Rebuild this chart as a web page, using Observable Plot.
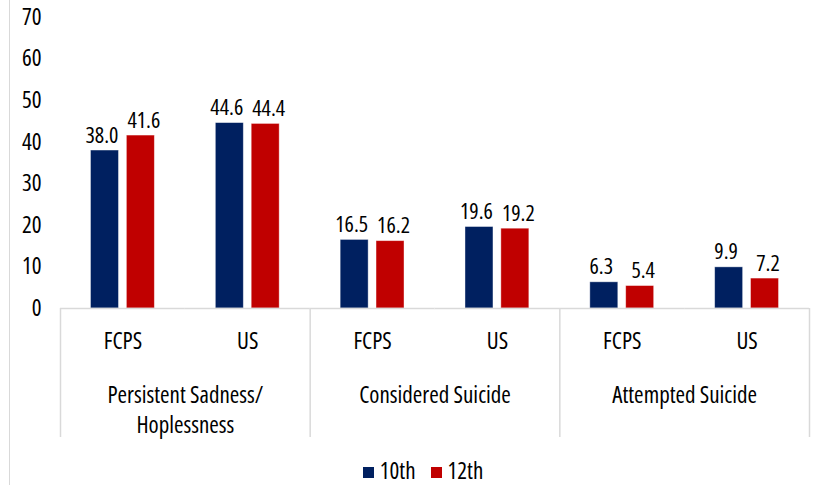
<!DOCTYPE html>
<html>
<head>
<meta charset="utf-8">
<script src="https://cdn.jsdelivr.net/npm/d3@7"></script>
<script src="https://cdn.jsdelivr.net/npm/@observablehq/plot@0.6"></script>
<style>
  html, body { margin: 0; padding: 0; background: #fff; }
  #chart {
    position: relative; width: 826px; height: 485px; overflow: hidden;
    font-family: "Open Sans", sans-serif; font-stretch: 75%;
  }
  #edge { position: absolute; left: 9px; top: 0; width: 1px; height: 485px; background: #d9d9d9; }
  #main { position: absolute; left: 0; top: 0; }
  #groups { position: absolute; left: 0; top: 308px; }
  #legend { position: absolute; left: 10px; top: 458px; width: 826px; }
  #legend > div {
    justify-content: center; margin: 0; min-height: 0; height: 24px; line-height: 24px;
    font-size: 23px; color: #000;
    font-family: "Open Sans", sans-serif; font-stretch: 75%;
  }
  #legend span { margin-right: 15px; }
  #legend span:last-child { margin-right: 0; }
  #legend span svg { margin-right: 6px; position: relative; top: 2px; }
</style>
</head>
<body>
<div id="chart">
  <div id="edge"></div>
  <div id="main"></div>
  <div id="groups"></div>
  <div id="legend"></div>
</div>
<script>
// Survey measures, two locations each, answered by 10th and 12th graders (%)
const categories = ["Persistent Sadness/\nHoplessness", "Considered Suicide", "Attempted Suicide"];
const places = ["FCPS", "US"];
const grades = ["10th", "12th"];
const tenth   = [38.0, 44.6, 16.5, 19.6, 6.3, 9.9];
const twelfth = [41.6, 44.4, 16.2, 19.2, 5.4, 7.2];
const yTicks = [0, 10, 20, 30, 40, 50, 60, 70];
const colors = ["#002060", "#c00000"];

const textStyle = {fontFamily: '"Open Sans", sans-serif', fontStretch: "75%", fontSize: "23px", color: "#000", background: "transparent"};

// one slot per (measure, location); bars for each grade sit inside it
const slots = [];
const rows = [];
categories.forEach((category, ci) => {
  places.forEach((place, pi) => {
    const k = ci * places.length + pi;
    const slot = `${k}|${place}`;
    slots.push(slot);
    rows.push({slot, place, category, grade: grades[0], value: tenth[k]});
    rows.push({slot, place, category, grade: grades[1], value: twelfth[k]});
  });
});

// value labels, nudged apart a little so neighbouring pairs stay readable
const valueLabels = (grade, dx) => Plot.text(rows.filter(d => d.grade === grade), {
  fx: "slot", x: "grade", y: "value",
  text: d => d.value.toFixed(1),
  lineAnchor: "bottom", dy: -8, dx,
  fontSize: 22, fill: "#000"
});

const main = Plot.plot({
  width: 826,
  height: 360,
  marginTop: 17,
  marginBottom: 52,
  marginLeft: 60,
  marginRight: 17,
  style: textStyle,
  fx: {domain: slots, padding: 0, round: false},
  x: {domain: grades, paddingInner: 0.22, paddingOuter: 0.85, round: false},
  y: {domain: [0, 70]},
  color: {domain: grades, range: colors},
  marks: [
    Plot.barY(rows, {fx: "slot", x: "grade", y: "value", fill: "grade", stroke: "#fff", strokeOpacity: 0.5, strokeWidth: 0.8}),
    Plot.ruleY([0], {stroke: "#d9d9d9", strokeWidth: 1.5}),
    valueLabels(grades[0], -3),
    valueLabels(grades[1], 3),
    Plot.axisY({ticks: yTicks, tickSize: 0, tickPadding: 19, label: null, fontSize: 23}),
    Plot.axisFx({anchor: "bottom", tickSize: 0, tickPadding: 24, label: null, fontSize: 23,
      tickFormat: s => s.split("|")[1]}),
    Plot.axisX({ticks: [], label: null, tickSize: 0})
  ]
});
document.getElementById("main").append(main);

// measure names and the separators between them, under the location labels
const bounds = d3.range(categories.length + 1).map(i => i * places.length);
const groups = Plot.plot({
  width: 826,
  height: 137,
  marginTop: 0,
  marginBottom: 8,
  marginLeft: 60,
  marginRight: 17,
  style: textStyle,
  x: {domain: [0, slots.length], axis: null},
  marks: [
    Plot.ruleX(bounds, {stroke: "#d9d9d9", strokeWidth: 1.5}),
    Plot.text(categories, {
      x: (d, i) => i * places.length + places.length / 2,
      text: d => d,
      frameAnchor: "top", lineAnchor: "top", dy: 74,
      lineHeight: 1.28, fontSize: 23, fill: "#000"
    })
  ]
});
document.getElementById("groups").append(groups);

document.getElementById("legend").append(main.legend("color", {swatchSize: 11}));
</script>
</body>
</html>
